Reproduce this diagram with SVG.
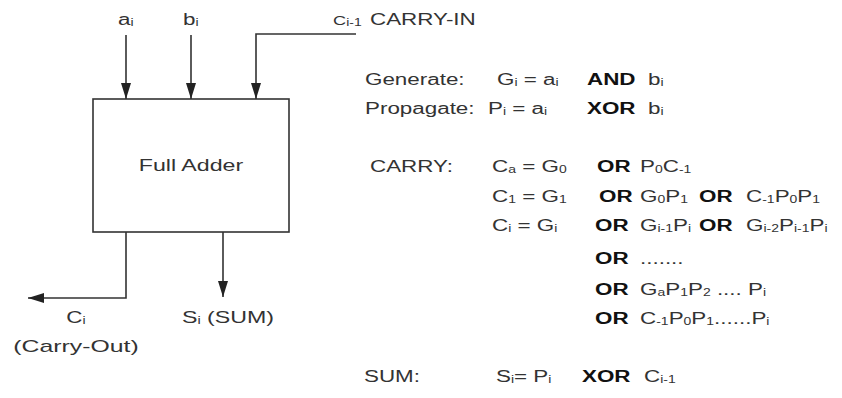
<svg xmlns="http://www.w3.org/2000/svg" width="842" height="398" viewBox="0 0 842 398">
<style>
text{font-family:"Liberation Sans",Arial,sans-serif;font-size:16px;fill:#333}
.b{font-weight:bold;fill:#111}
.s{font-size:10px}
.ln{fill:none;stroke:#333;stroke-width:1.6}
</style>
<defs>
<marker id="ah" viewBox="0 0 16 10" refX="16" refY="5" markerWidth="16" markerHeight="10" markerUnits="userSpaceOnUse" orient="auto">
<path d="M0,0 L16,5 L0,10 Z" fill="#222"/>
</marker>
</defs>
<rect width="842" height="398" fill="#fff"/>

<g id="full-adder">
<rect x="93" y="99" width="196" height="133" fill="#fff" stroke="#333" stroke-width="1.6"/>
<text transform="translate(191 171) scale(1.45 1)" text-anchor="middle">Full Adder</text>
</g>

<g id="connectors">
<path class="ln" d="M126,35 V99" marker-end="url(#ah)"/>
<path class="ln" d="M191,35 V99" marker-end="url(#ah)"/>
<path class="ln" d="M356,34 H256 V99" marker-end="url(#ah)"/>
<path class="ln" d="M126,232 V298 H28" marker-end="url(#ah)"/>
<path class="ln" d="M223,232 V297" marker-end="url(#ah)"/>
</g>

<g id="labels">
<text transform="translate(118 25) scale(1.4 1)">a<tspan class="s" dy="1">i</tspan></text>
<text transform="translate(183 25) scale(1.4 1)">b<tspan class="s" dy="1">i</tspan></text>
<text transform="translate(333 25) scale(1.4 1)"><tspan font-size="13">C</tspan><tspan class="s" dy="1">i-1</tspan></text>
<text transform="translate(370 25) scale(1.4 1)">CARRY-IN</text>
<text transform="translate(76 323) scale(1.4 1)" text-anchor="middle">C<tspan class="s" dy="1">i</tspan></text>
<text transform="translate(76 352) scale(1.55 1)" text-anchor="middle">(Carry-Out)</text>
<text transform="translate(182 323) scale(1.45 1)">S<tspan class="s" dy="1">i</tspan><tspan dy="-1"> (SUM)</tspan></text>
</g>

<g id="equations">
<text transform="translate(365 85) scale(1.4 1)">Generate:</text>
<text transform="translate(497 85) scale(1.4 1)">G<tspan class="s" dy="1">i</tspan><tspan dy="-1"> = a</tspan><tspan class="s" dy="1">i</tspan></text>
<text class="b" transform="translate(587 85) scale(1.4 1)">AND</text>
<text transform="translate(648 85) scale(1.4 1)">b<tspan class="s" dy="1">i</tspan></text>

<text transform="translate(365 114) scale(1.4 1)">Propagate:</text>
<text transform="translate(488 114) scale(1.4 1)">P<tspan class="s" dy="1">i</tspan><tspan dy="-1"> = a</tspan><tspan class="s" dy="1">i</tspan></text>
<text class="b" transform="translate(587 114) scale(1.4 1)">XOR</text>
<text transform="translate(648 114) scale(1.4 1)">b<tspan class="s" dy="1">i</tspan></text>

<text transform="translate(370 172) scale(1.4 1)">CARRY:</text>
<text transform="translate(492 172) scale(1.4 1)">C<tspan class="s" dy="1">a</tspan><tspan dy="-1"> = G</tspan><tspan class="s" dy="1">0</tspan></text>
<text class="b" transform="translate(597 172) scale(1.4 1)">OR</text>
<text transform="translate(640 172) scale(1.4 1)">P<tspan class="s" dy="1">0</tspan><tspan dy="-1">C</tspan><tspan class="s" dy="1">-1</tspan></text>

<text transform="translate(492 202) scale(1.4 1)">C<tspan class="s" dy="1">1</tspan><tspan dy="-1"> = G</tspan><tspan class="s" dy="1">1</tspan></text>
<text class="b" transform="translate(599 202) scale(1.4 1)">OR</text>
<text transform="translate(640 202) scale(1.4 1)">G<tspan class="s" dy="1">0</tspan><tspan dy="-1">P</tspan><tspan class="s" dy="1">1</tspan></text>
<text class="b" transform="translate(699 202) scale(1.4 1)">OR</text>
<text transform="translate(746 202) scale(1.4 1)">C<tspan class="s" dy="1">-1</tspan><tspan dy="-1">P</tspan><tspan class="s" dy="1">0</tspan><tspan dy="-1">P</tspan><tspan class="s" dy="1">1</tspan></text>

<text transform="translate(492 231) scale(1.4 1)">C<tspan class="s" dy="1">i</tspan><tspan dy="-1">  = G</tspan><tspan class="s" dy="1">i</tspan></text>
<text class="b" transform="translate(595 231) scale(1.4 1)">OR</text>
<text transform="translate(640 231) scale(1.4 1)">G<tspan class="s" dy="1">i-1</tspan><tspan dy="-1">P</tspan><tspan class="s" dy="1">i</tspan></text>
<text class="b" transform="translate(699 231) scale(1.4 1)">OR</text>
<text transform="translate(746 231) scale(1.4 1)">G<tspan class="s" dy="1">i-2</tspan><tspan dy="-1">P</tspan><tspan class="s" dy="1">i-1</tspan><tspan dy="-1">P</tspan><tspan class="s" dy="1">i</tspan></text>

<text class="b" transform="translate(595 264) scale(1.4 1)">OR</text>
<text transform="translate(640 264) scale(1.4 1)">.......</text>

<text class="b" transform="translate(595 295) scale(1.4 1)">OR</text>
<text transform="translate(640 295) scale(1.4 1)">G<tspan class="s" dy="1">a</tspan><tspan dy="-1">P</tspan><tspan class="s" dy="1">1</tspan><tspan dy="-1">P</tspan><tspan class="s" dy="1">2</tspan><tspan dy="-1"> .... P</tspan><tspan class="s" dy="1">i</tspan></text>

<text class="b" transform="translate(595 324) scale(1.4 1)">OR</text>
<text transform="translate(640 324) scale(1.4 1)">C<tspan class="s" dy="1">-1</tspan><tspan dy="-1">P</tspan><tspan class="s" dy="1">0</tspan><tspan dy="-1">P</tspan><tspan class="s" dy="1">1</tspan><tspan dy="-1">......P</tspan><tspan class="s" dy="1">i</tspan></text>

<text transform="translate(364 382) scale(1.4 1)">SUM:</text>
<text transform="translate(496 382) scale(1.4 1)">S<tspan class="s" dy="1">i</tspan><tspan dy="-1">= P</tspan><tspan class="s" dy="1">i</tspan></text>
<text class="b" transform="translate(582 382) scale(1.4 1)">XOR</text>
<text transform="translate(644 382) scale(1.4 1)">C<tspan class="s" dy="1">i-1</tspan></text>
</g>
</svg>
